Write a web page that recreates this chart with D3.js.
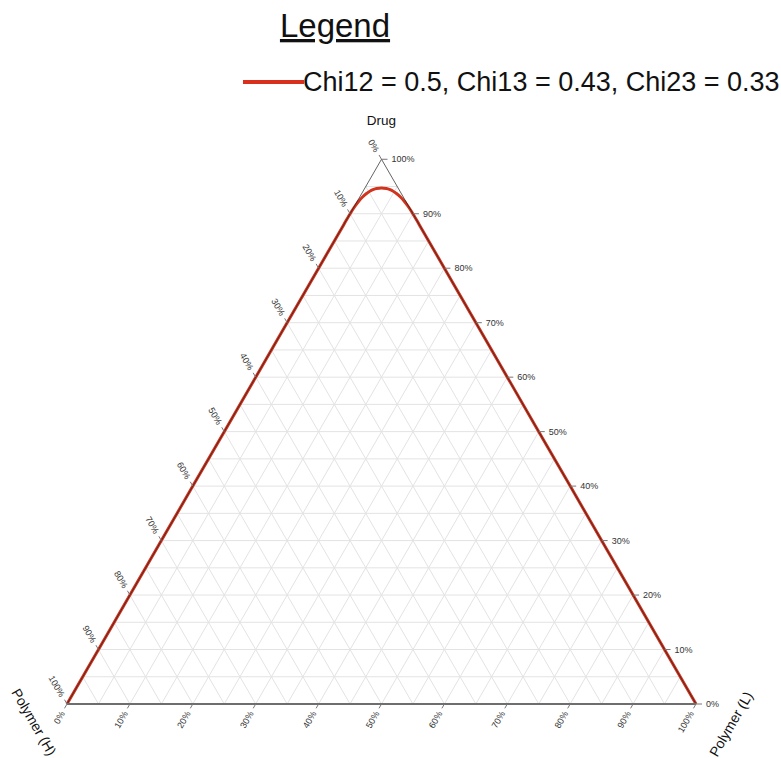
<!DOCTYPE html>
<html>
<head>
<meta charset="utf-8">
<script src="https://cdn.jsdelivr.net/npm/d3@7"></script>
<style>
  html, body { margin: 0; padding: 0; background: #fff; }
  svg { display: block; font-family: "Liberation Sans", Arial, Helvetica, sans-serif; }
</style>
</head>
<body>
<svg id="chart" width="781" height="758"></svg>
<script>
// Binodal curve, as ternary fractions (drug, polymer H, polymer L)
const curveDrug  = [0.000, 0.200, 0.400, 0.600, 0.800, 0.880, 0.9033, 0.9143, 0.9234, 0.9308, 0.9372, 0.9418, 0.9446, 0.9462, 0.9473,
                    0.9462, 0.9446, 0.9418, 0.9372, 0.9308, 0.9234, 0.9143, 0.9033, 0.880, 0.800, 0.600, 0.400, 0.200, 0.000];
const curvePolyH = [1.000, 0.800, 0.600, 0.400, 0.200, 0.120, 0.0965, 0.0848, 0.0742, 0.0648, 0.0552, 0.0471, 0.0403, 0.0347, 0.0264,
                    0.0191, 0.0151, 0.0111, 0.0076, 0.0045, 0.0024, 0.0010, 0.0002, 0.000, 0.000, 0.000, 0.000, 0.000, 0.000];
const curvePolyL = [0.000, 0.000, 0.000, 0.000, 0.000, 0.000, 0.0002, 0.0010, 0.0024, 0.0045, 0.0076, 0.0111, 0.0151, 0.0191, 0.0263,
                    0.0347, 0.0403, 0.0471, 0.0552, 0.0648, 0.0742, 0.0848, 0.0965, 0.120, 0.200, 0.400, 0.600, 0.800, 1.000];

const tickValues = [0, 0.1, 0.2, 0.3, 0.4, 0.5, 0.6, 0.7, 0.8, 0.9, 1.0];
const tickLabels = ["0%", "10%", "20%", "30%", "40%", "50%", "60%", "70%", "80%", "90%", "100%"];
const gridValues = [0.05, 0.1, 0.15, 0.2, 0.25, 0.3, 0.35, 0.4, 0.45, 0.5, 0.55, 0.6, 0.65, 0.7, 0.75, 0.8, 0.85, 0.9, 0.95];

const axisTitles = { top: "Drug", left: "Polymer (H)", right: "Polymer (L)" };
const legendTitle = "Legend";
const seriesName = "Chi12 = 0.5, Chi13 = 0.43, Chi23 = 0.33";

const svg = d3.select("#chart");

// Triangle geometry: bottom-left = polymer H, bottom-right = polymer L, apex = drug
const left = 67, right = 696, base = 704;
const side = right - left;
const height = side * Math.sqrt(3) / 2;

const xScale = d3.scaleLinear().domain([0, 1]).range([left, right]);
const yScale = d3.scaleLinear().domain([0, 1]).range([base, base - height]);

// project (drug, polyL) to screen; polyH is the remainder
function project(d, l) {
  return [xScale(l + d / 2), yScale(d)];
}

const g = svg.append("g");

// grid
const gridG = g.append("g").attr("stroke", "#e3e3e3").attr("stroke-width", 1).attr("fill", "none");
gridValues.forEach(v => {
  // constant drug
  let a = project(v, 0), b = project(v, 1 - v);
  gridG.append("line").attr("x1", a[0]).attr("y1", a[1]).attr("x2", b[0]).attr("y2", b[1]);
  // constant polymer L
  a = project(0, v); b = project(1 - v, v);
  gridG.append("line").attr("x1", a[0]).attr("y1", a[1]).attr("x2", b[0]).attr("y2", b[1]);
  // constant polymer H
  a = project(0, 1 - v); b = project(1 - v, 0);
  gridG.append("line").attr("x1", a[0]).attr("y1", a[1]).attr("x2", b[0]).attr("y2", b[1]);
});

// binodal curve
const pts = curveDrug.map((d, i) => {
  const sum = d + curvePolyH[i] + curvePolyL[i];
  return project(d / sum, curvePolyL[i] / sum);
});
g.append("path")
  .attr("d", d3.line().curve(d3.curveCatmullRom.alpha(0.5))(pts))
  .attr("fill", "none")
  .attr("stroke", "#d0341e")
  .attr("stroke-width", 3)
  .attr("stroke-linejoin", "round");

// triangle edges
const A = project(0, 0), B = project(0, 1), C = project(1, 0);
g.append("line").attr("x1", A[0]).attr("y1", A[1]).attr("x2", C[0]).attr("y2", C[1])
  .attr("stroke", "#222").attr("stroke-opacity", 0.7).attr("stroke-width", 1);
g.append("line").attr("x1", B[0]).attr("y1", B[1]).attr("x2", C[0]).attr("y2", C[1])
  .attr("stroke", "#222").attr("stroke-opacity", 0.7).attr("stroke-width", 1);
g.append("line").attr("x1", A[0]).attr("y1", A[1]).attr("x2", B[0]).attr("y2", B[1])
  .attr("stroke", "#6e6e6e").attr("stroke-width", 2);

// ticks and labels
const tickLen = 5, gap = 4;
const tickG = g.append("g").attr("font-size", 9).attr("fill", "#333");
const c60 = 0.5, s60 = Math.sqrt(3) / 2;

tickValues.forEach((v, i) => {
  // bottom axis: polymer L fraction
  let p = project(0, v);
  let dx = -c60, dy = s60;
  tickG.append("line").attr("x1", p[0]).attr("y1", p[1])
    .attr("x2", p[0] + dx * tickLen).attr("y2", p[1] + dy * tickLen)
    .attr("stroke", "#777").attr("stroke-width", 1);
  let lx = p[0] + dx * (tickLen + gap), ly = p[1] + dy * (tickLen + gap);
  tickG.append("text").attr("x", 0).attr("y", 0).attr("dy", "0.35em")
    .attr("text-anchor", "end")
    .attr("transform", `translate(${lx},${ly}) rotate(-60)`)
    .text(tickLabels[i]);

  // left axis: polymer H fraction (0% at apex)
  p = project(1 - v, 0);
  dx = -c60; dy = -s60;
  tickG.append("line").attr("x1", p[0]).attr("y1", p[1])
    .attr("x2", p[0] + dx * tickLen).attr("y2", p[1] + dy * tickLen)
    .attr("stroke", "#777").attr("stroke-width", 1);
  lx = p[0] + dx * (tickLen + gap); ly = p[1] + dy * (tickLen + gap);
  tickG.append("text").attr("x", 0).attr("y", 0).attr("dy", "0.35em")
    .attr("text-anchor", "end")
    .attr("transform", `translate(${lx},${ly}) rotate(60)`)
    .text(tickLabels[i]);

  // right axis: drug fraction
  p = project(v, 1 - v);
  tickG.append("line").attr("x1", p[0]).attr("y1", p[1])
    .attr("x2", p[0] + tickLen + 1).attr("y2", p[1])
    .attr("stroke", "#777").attr("stroke-width", 1);
  tickG.append("text").attr("x", p[0] + tickLen + 5).attr("y", p[1]).attr("dy", "0.35em")
    .attr("text-anchor", "start")
    .text(tickLabels[i]);
});

// axis titles
g.append("text").attr("x", C[0]).attr("y", C[1] - 34)
  .attr("text-anchor", "middle").attr("font-size", 13.5).attr("fill", "#111")
  .text(axisTitles.top);
g.append("text").attr("x", 0).attr("y", 0).attr("dy", "0.35em")
  .attr("text-anchor", "middle").attr("font-size", 14).attr("fill", "#111")
  .attr("transform", `translate(${A[0] - 33},${A[1] + 18}) rotate(60)`)
  .text(axisTitles.left);
g.append("text").attr("x", 0).attr("y", 0).attr("dy", "0.35em")
  .attr("text-anchor", "middle").attr("font-size", 14).attr("fill", "#111")
  .attr("transform", `translate(${B[0] + 35},${B[1] + 20}) rotate(-60)`)
  .text(axisTitles.right);

// legend
const leg = svg.append("g");
leg.append("text").attr("x", 335).attr("y", 37)
  .attr("text-anchor", "middle").attr("font-size", 33).attr("fill", "#111")
  .attr("text-decoration", "underline")
  .text(legendTitle);
leg.append("line").attr("x1", 243).attr("x2", 304).attr("y1", 82).attr("y2", 82)
  .attr("stroke", "#d8301c").attr("stroke-width", 4);
leg.append("text").attr("x", 303).attr("y", 91)
  .attr("font-size", 27).attr("fill", "#111")
  .text(seriesName);
</script>
</body>
</html>
